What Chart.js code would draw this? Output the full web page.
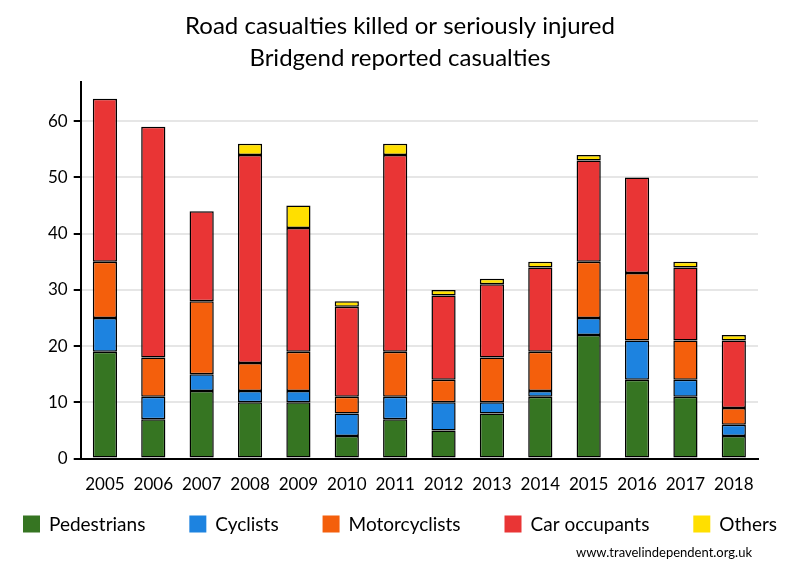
<!DOCTYPE html>
<html>
<head>
<meta charset="utf-8">
<script src="https://cdn.jsdelivr.net/npm/chart.js@4"></script>
<style>
  html, body { margin: 0; padding: 0; background: #fff; }
  #wrap { width: 800px; height: 580px; }
</style>
</head>
<body>
<div id="wrap"><canvas id="roadChart" width="800" height="580"></canvas></div>
<script>
// DATA
const years = ['2005', '2006', '2007', '2008', '2009', '2010', '2011', '2012', '2013', '2014', '2015', '2016', '2017', '2018'];
const pedestrians  = [19, 7, 12, 10, 10, 4, 7, 5, 8, 11, 22, 14, 11, 4];
const cyclists     = [6, 4, 3, 2, 2, 4, 4, 5, 2, 1, 3, 7, 3, 2];
const motorcyclists = [10, 7, 13, 5, 7, 3, 8, 4, 8, 7, 10, 12, 7, 3];
const carOccupants = [29, 41, 16, 37, 22, 16, 35, 15, 13, 15, 18, 17, 13, 12];
const others       = [0, 0, 0, 2, 4, 1, 2, 1, 1, 1, 1, 0, 1, 1];
const yTicks = [0, 10, 20, 30, 40, 50, 60];

const font = "Lato, 'Open Sans', sans-serif";

function series(label, data, colour) {
    return {
        label: label,
        data: data,
        backgroundColor: colour,
        borderColor: '#000',
        borderWidth: 1.5,
        borderSkipped: false,
        barPercentage: 0.5,
        categoryPercentage: 1.0
    };
}

// legend + source line drawn below the chart, one row like the original
const bottomLegend = {
    id: 'bottomLegend',
    afterDraw(chart) {
        const c = chart.ctx;
        const sets = chart.data.datasets;
        c.save();
        c.font = '19px ' + font;
        c.textBaseline = 'middle';
        const widths = sets.map(ds => 17 + 9 + c.measureText(ds.label).width);
        const total = widths.reduce((a, b) => a + b, 0);
        const gap = (754 - total) / (sets.length - 1);
        let x = 23;
        const y = 524;
        sets.forEach((ds, i) => {
            c.fillStyle = ds.backgroundColor;
            c.fillRect(x, y - 8.5, 17, 17);
            c.fillStyle = '#000';
            c.textAlign = 'left';
            c.fillText(ds.label, x + 26, y + 1);
            x += widths[i] + gap;
        });
        c.font = '13px ' + font;
        c.textAlign = 'right';
        c.fillText('www.travelindependent.org.uk', 752, 553);
        c.restore();
    }
};

const ctx = document.getElementById('roadChart').getContext('2d');
const roadChart = new Chart(ctx, {
    type: 'bar',
    data: {
        labels: years,
        datasets: [
            series('Pedestrians', pedestrians, '#367522'),
            series('Cyclists', cyclists, '#1d83e0'),
            series('Motorcyclists', motorcyclists, '#f45f0c'),
            series('Car occupants', carOccupants, '#e93535'),
            series('Others', others, '#ffdf00')
        ]
    },
    options: {
        responsive: false,
        animation: false,
        layout: { padding: { left: 42, right: 42, top: 10, bottom: 77 } },
        plugins: {
            title: {
                display: true,
                text: ['Road casualties killed or seriously injured', 'Bridgend reported casualties'],
                color: '#000',
                font: { family: font, size: 24, weight: 'normal', lineHeight: 1.33 },
                padding: { top: 0, bottom: 8 }
            },
            legend: { display: false },
            tooltip: { enabled: false }
        },
        scales: {
            x: {
                stacked: true,
                grid: { display: false },
                border: { color: '#000', width: 2 },
                ticks: { color: '#000', font: { family: font, size: 17 }, padding: 8, maxRotation: 0 }
            },
            y: {
                stacked: true,
                min: 0,
                max: 67,
                afterBuildTicks: axis => {
                    axis.ticks = yTicks.map(v => ({ value: v }));
                },
                grid: { color: '#e6e6e6', lineWidth: 2, tickColor: '#000', tickLength: 7 },
                border: { color: '#000', width: 2 },
                ticks: { color: '#000', font: { family: font, size: 17 }, padding: 6 }
            }
        }
    },
    plugins: [bottomLegend]
});
</script>
</body>
</html>
